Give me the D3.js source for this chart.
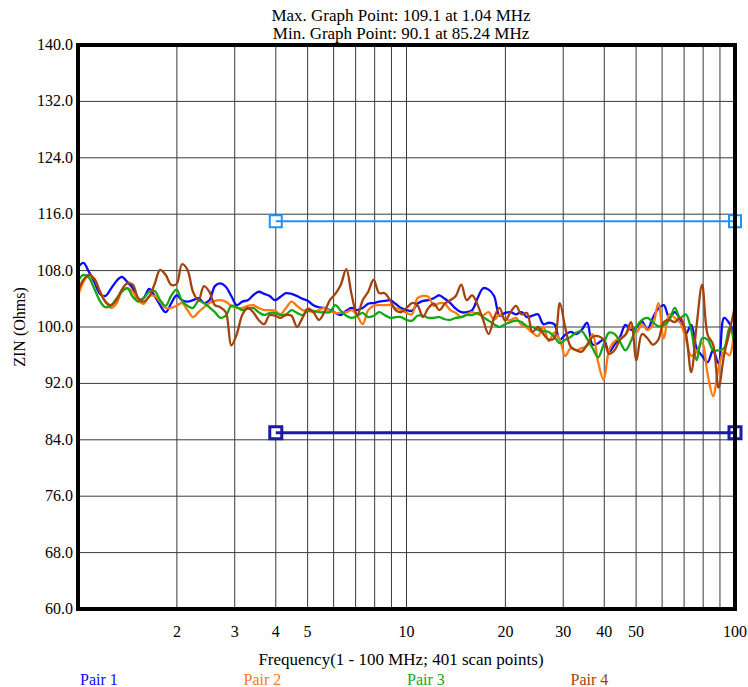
<!DOCTYPE html>
<html lang="en">
<head>
  <meta charset="UTF-8">
  <title>ZIN sweep</title>
  <style>
    body { margin: 0; background: #fff; }
    svg { display: block; font-family: "Liberation Serif", "Times New Roman", serif; }
  </style>
</head>
<body>
  <svg id="chart" width="748" height="687"></svg>
  <script src="https://d3js.org/d3.v7.min.js"></script>
  <script>
    // sweep: 1 - 100 MHz, log spaced (121 points kept here)
    const nPoints = 121;
    const freqs = d3.range(nPoints).map(i => Math.pow(10, i / 60));

    const pair1 = [108.5,109.1,107.8,106.4,104.7,104.4,105.4,106.5,107.1,106.4,
      105.5,103.8,104.1,105.4,104.4,103.1,102.1,103.3,104.5,103.8,
      103.6,103.8,104.1,103.4,103.8,105.8,106.2,105.7,104.4,103.1,
      103.6,103.8,104.5,105.0,104.7,104.4,103.8,104.3,104.8,104.7,
      104.4,104.0,103.7,103.1,102.8,102.7,102.4,102.0,101.7,102.3,
      102.7,102.4,102.7,103.3,103.4,103.6,103.7,103.8,103.3,102.7,
      102.4,102.3,103.3,103.7,103.8,104.1,104.5,104.0,103.4,102.6,
      102.1,102.1,102.4,104.1,105.5,105.3,104.4,101.6,102.0,102.1,
      101.8,102.1,101.4,101.6,101.8,100.4,100.6,100.4,98.2,98.9,
      99.3,99.0,99.6,100.6,97.5,97.7,98.2,96.5,97.5,98.6,
      100.3,99.6,99.9,100.8,99.6,101.3,102.6,103.1,101.3,102.1,
      101.0,99.0,100.3,97.0,95.9,95.0,96.7,94.8,101.3,100.5,98.9];

    const pair2 = [104.4,106.4,107.4,106.8,105.1,103.6,102.7,103.3,105.0,105.5,
      105.0,103.8,103.3,104.4,104.4,103.6,102.7,102.7,103.0,103.4,
      102.4,101.4,102.1,102.8,103.4,103.7,103.8,103.6,103.0,102.7,
      102.7,103.0,103.1,102.7,102.4,102.4,102.3,101.8,102.7,103.6,
      103.0,102.4,102.3,102.1,102.4,102.7,102.3,102.0,102.0,102.1,
      102.4,101.6,100.4,102.4,103.0,103.1,103.1,103.1,102.7,102.4,
      102.0,101.8,104.1,104.4,104.3,103.0,103.4,103.3,102.4,102.0,
      101.4,101.8,102.1,101.8,101.7,102.1,101.0,101.8,101.1,101.0,
      101.3,100.3,99.9,99.2,98.7,100.0,98.0,99.2,98.2,95.9,
      97.0,96.7,97.0,97.3,99.0,95.0,92.5,96.7,98.0,98.4,
      98.9,100.0,99.2,100.4,99.6,100.3,103.4,98.4,101.8,101.3,
      100.6,98.4,95.9,96.5,97.7,93.3,90.2,94.2,96.5,96.0,102.8];

    const pair3 = [106.5,107.4,107.0,105.4,103.7,102.8,103.0,104.0,105.0,105.5,
      104.3,103.6,104.1,105.0,105.1,103.8,103.0,104.4,105.3,103.7,
      103.0,102.7,103.7,103.4,102.8,102.1,101.3,101.6,103.0,102.8,
      102.4,102.6,102.7,102.1,101.7,102.0,102.0,101.7,101.8,102.4,
      102.0,101.7,102.3,102.3,102.1,102.1,102.1,103.1,102.3,101.6,
      101.3,101.6,102.0,101.4,101.6,102.1,101.7,101.3,101.4,101.4,
      101.0,100.9,101.6,101.6,101.3,101.3,101.4,101.1,101.0,101.3,
      101.4,101.7,101.7,102.0,101.4,100.9,100.4,100.0,100.4,100.7,
      100.9,100.7,100.1,100.0,99.6,99.4,99.3,98.6,97.7,98.2,
      98.6,99.2,99.4,98.3,97.0,95.7,97.5,99.2,99.0,97.9,
      96.7,98.0,100.0,101.0,101.3,100.7,100.1,100.3,101.0,102.7,
      101.3,101.8,99.6,95.3,98.4,98.2,96.7,96.7,97.0,99.9,97.3];

    const pair4 = [105.1,106.7,107.4,106.8,105.0,103.6,103.1,103.8,105.3,106.2,
      106.0,104.1,103.6,104.3,106.1,108.1,107.4,106.0,106.1,108.9,
      108.1,105.0,103.8,105.8,105.0,103.1,102.8,102.1,97.4,99.0,
      101.7,102.7,102.1,101.0,100.4,101.7,101.6,101.3,101.7,101.6,
      100.0,101.3,102.6,102.1,101.0,102.1,103.8,104.7,106.0,108.2,
      104.5,101.7,103.8,105.0,106.7,104.8,104.8,103.8,102.4,102.1,
      102.7,103.4,103.1,101.4,102.7,103.3,102.4,103.3,103.8,104.4,
      106.0,103.8,104.5,103.1,101.0,99.0,101.3,102.7,100.9,102.1,
      103.0,101.8,102.0,99.3,100.0,99.0,98.2,98.4,103.4,99.9,
      97.2,96.7,96.5,97.5,98.6,98.7,98.2,96.2,96.7,98.2,
      98.9,100.7,95.3,99.0,98.4,97.5,98.2,100.7,101.0,100.7,
      101.3,99.2,93.6,100.3,106.0,98.9,97.5,91.4,96.0,99.3,103.1];

    const seriesNames = ["Pair 1", "Pair 2", "Pair 3", "Pair 4"];
    const seriesColors = ["#0a0aff", "#ff7a10", "#12a812", "#a3420c"];

    const limitValues = [115, 85];
    const limitStart = 4, limitEnd = 100;
    const limitColors = ["#1e90ff", "#1a1aa6"];

    const yTicks = d3.range(60, 140.1, 8);
    const xGrid = [2,3,4,5,6,7,8,9,10,20,30,40,50,60,70,80,90];
    const xLabels = [2,3,4,5,10,20,30,40,50,100];

    const titleLines = ["Max. Graph Point: 109.1 at 1.04 MHz", "Min. Graph Point: 90.1 at 85.24 MHz"];

    const plotLeft = 78, plotRight = 735, plotTop = 45, plotBottom = 609;

    const svg = d3.select("#chart");

    const x = d3.scaleLog().domain([1, 100]).range([plotLeft, plotRight]);
    const y = d3.scaleLinear().domain([60, 140]).range([plotBottom, plotTop]);

    // grid
    svg.append("g").selectAll("line")
      .data(xGrid).enter().append("line")
      .attr("x1", d => x(d)).attr("x2", d => x(d))
      .attr("y1", plotTop).attr("y2", plotBottom)
      .attr("stroke", "#3a3a3a").attr("stroke-width", 1);

    svg.append("g").selectAll("line")
      .data(yTicks.slice(1, -1)).enter().append("line")
      .attr("x1", plotLeft).attr("x2", plotRight)
      .attr("y1", d => y(d)).attr("y2", d => y(d))
      .attr("stroke", "#3a3a3a").attr("stroke-width", 1);

    // limit lines
    limitValues.forEach((v, i) => {
      const w = i === 0 ? 2 : 3;
      const g = svg.append("g");
      [limitStart, limitEnd].forEach(f => {
        g.append("rect")
          .attr("x", x(f) - 6).attr("y", y(v) - 6)
          .attr("width", 12).attr("height", 12)
          .attr("fill", "#fff")
          .attr("stroke", limitColors[i]).attr("stroke-width", w);
      });
      g.append("line")
        .attr("x1", x(limitStart)).attr("x2", x(limitEnd))
        .attr("y1", y(v)).attr("y2", y(v))
        .attr("stroke", limitColors[i]).attr("stroke-width", w);
    });

    // traces
    const line = d3.line()
      .x((d, i) => x(freqs[i]))
      .y(d => y(d))
      .curve(d3.curveCatmullRom.alpha(0.5));

    [pair1, pair2, pair3, pair4].forEach((s, i) => {
      svg.append("path")
        .datum(s)
        .attr("d", line)
        .attr("fill", "none")
        .attr("stroke", seriesColors[i])
        .attr("stroke-width", 2.3)
        .attr("stroke-linejoin", "round");
    });

    // frame
    svg.append("rect")
      .attr("x", plotLeft).attr("y", plotTop)
      .attr("width", plotRight - plotLeft).attr("height", plotBottom - plotTop)
      .attr("fill", "none").attr("stroke", "#000").attr("stroke-width", 4);

    // y tick labels
    svg.append("g").selectAll("text")
      .data(yTicks).enter().append("text")
      .attr("x", plotLeft - 5).attr("y", d => y(d) + 5)
      .attr("text-anchor", "end")
      .style("font-size", "16px")
      .text(d => d.toFixed(1));

    // x tick labels
    svg.append("g").selectAll("text")
      .data(xLabels).enter().append("text")
      .attr("x", d => x(d)).attr("y", 637)
      .attr("text-anchor", "middle")
      .style("font-size", "16px")
      .text(d => d);

    // titles
    svg.selectAll(".title")
      .data(titleLines).enter().append("text")
      .attr("class", "title")
      .attr("x", 401).attr("y", (d, i) => 21 + i * 18)
      .attr("text-anchor", "middle")
      .style("font-size", "17px")
      .text(d => d);

    svg.append("text")
      .attr("x", 401).attr("y", 665)
      .attr("text-anchor", "middle")
      .style("font-size", "17px")
      .text("Frequency(1 - 100 MHz; 401 scan points)");

    svg.append("text")
      .attr("transform", "translate(25," + y(100) + ") rotate(-90)")
      .attr("text-anchor", "middle")
      .style("font-size", "16px")
      .text("ZIN (Ohms)");

    // legend
    svg.append("g").selectAll("text")
      .data(seriesNames).enter().append("text")
      .attr("x", (d, i) => 80 + i * 163.5).attr("y", 685)
      .attr("fill", (d, i) => seriesColors[i])
      .style("font-size", "16px")
      .text(d => d);
  </script>
</body>
</html>
